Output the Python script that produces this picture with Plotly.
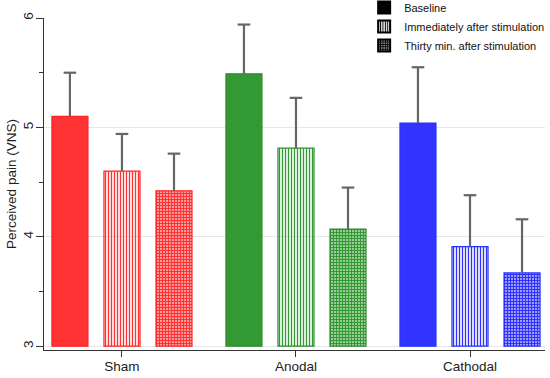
import plotly.graph_objects as go

categories = ["Sham", "Anodal", "Cathodal"]
series_names = ["Baseline", "Immediately after stimulation", "Thirty min. after stimulation"]
baseline = [5.10, 5.49, 5.04]
immediately = [4.60, 4.81, 3.91]
thirty = [4.42, 4.07, 3.67]
err_baseline = [0.40, 0.45, 0.51]
err_immediately = [0.34, 0.46, 0.47]
err_thirty = [0.34, 0.38, 0.49]

group_colors = ["#FF3333", "#339933", "#3333FF"]
line_colors = ["#FF2222", "#2E8B2E", "#2233FF"]

values = [baseline, immediately, thirty]
errors = [err_baseline, err_immediately, err_thirty]

SLOT = 0.299
BAR_W = 0.207
BASE = 3

patterns = [
    lambda c: dict(shape=""),
    lambda c: dict(shape="|", fgcolor=c, bgcolor="white", size=3, solidity=0.45, fillmode="replace"),
    lambda c: dict(shape="+", fgcolor=c, bgcolor="white", size=3, solidity=0.8, fillmode="replace"),
]

fig = go.Figure()
idx = list(range(len(categories)))

for j, (vals, errs) in enumerate(zip(values, errors)):
    xs = [g + (j - 1) * SLOT for g in idx]
    fig.add_trace(go.Bar(
        x=xs, y=[v - BASE for v in vals], base=BASE, width=BAR_W,
        name=series_names[j], showlegend=False,
        marker=dict(color=group_colors, line=dict(color=line_colors, width=1.2),
                    pattern=patterns[j](group_colors)),
    ))
    # one-sided error bars (upper only) with a cap
    fig.add_trace(go.Scatter(
        x=xs, y=[v + e for v, e in zip(vals, errs)], mode="markers", showlegend=False,
        hoverinfo="skip",
        marker=dict(symbol="line-ew", size=9, color="#666666",
                    line=dict(color="#666666", width=2.2)),
        error_y=dict(type="data", symmetric=False, array=[0] * len(errs), arrayminus=errs,
                     color="#666666", thickness=2.2, width=0),
    ))

# legend-only entries (black swatches)
for j, name in enumerate(series_names):
    fig.add_trace(go.Bar(
        x=[None], y=[None], name=name,
        marker=dict(color="black", line=dict(color="black", width=1), pattern=patterns[j]("black")),
    ))

fig.update_layout(
    width=550, height=378,
    margin=dict(l=44, r=5, t=18, b=28, autoexpand=False),
    paper_bgcolor="white", plot_bgcolor="white",
    font=dict(family="Liberation Sans, Arial, sans-serif", size=13, color="#222"),
    barmode="overlay",
    showlegend=True,
    legend=dict(x=0.639, y=1.075, xanchor="left", yanchor="top",
                bgcolor="white", font=dict(size=11, color="#111"), tracegroupgap=0,
                itemsizing="constant"),
    xaxis=dict(range=[-0.448, 2.431], tickvals=idx, ticktext=categories,
               showline=True, linecolor="#333", linewidth=1.2,
               ticks="outside", ticklen=6, tickcolor="#333", showgrid=False, zeroline=False,
               tickfont=dict(size=13.5), ticklabelstandoff=-2),
    yaxis=dict(range=[2.965, 6.0], showline=True, linecolor="#333", linewidth=1.2,
               tickvals=[3, 4, 5, 6], ticks="outside", ticklen=7, tickcolor="#333",
               tickangle=-90, showgrid=True, gridcolor="#e6e6e6", gridwidth=1,
               zeroline=False, tickfont=dict(size=13.5), ticklabelstandoff=-2,
               minor=dict(tickvals=[3.5, 4.5, 5.5], ticks="outside", ticklen=4, tickcolor="#333", showgrid=False),
               title=dict(text="Perceived pain (VNS)", font=dict(size=13.5), standoff=0)),
)

fig.write_html("out.html", config={"displayModeBar": False},
               post_script="document.body.style.margin='0';")
